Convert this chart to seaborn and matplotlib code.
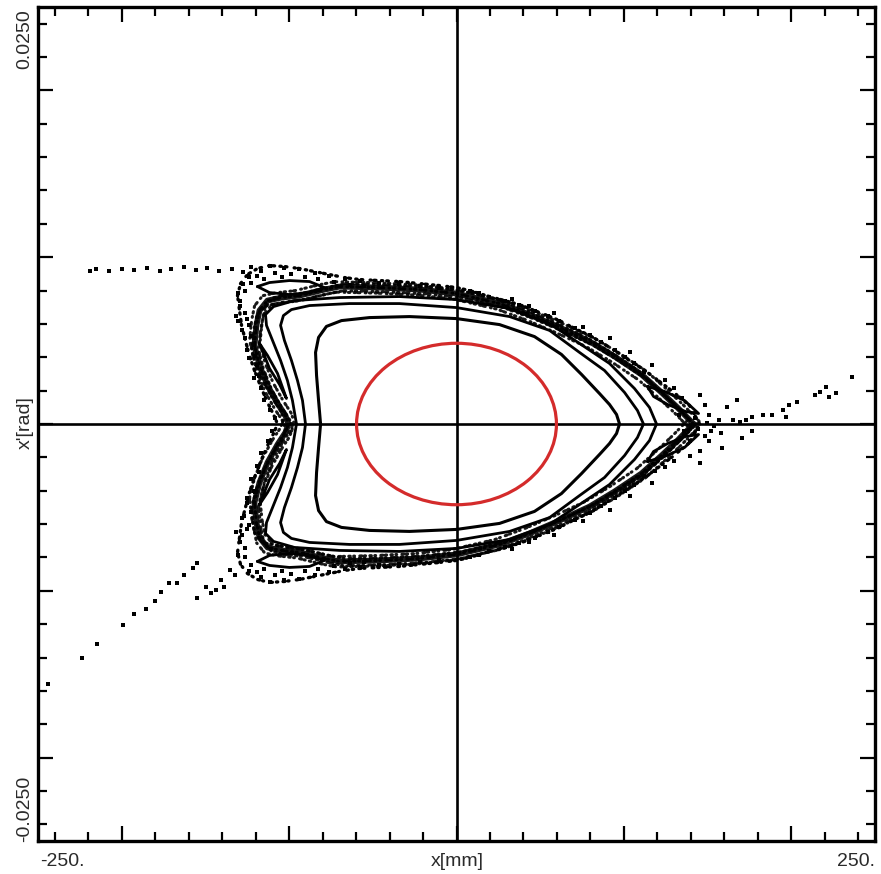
import matplotlib
matplotlib.use("Agg")
import numpy as np
import pandas as pd
import matplotlib.pyplot as plt
import matplotlib.patheffects as pe
from matplotlib.patches import Ellipse
from matplotlib.ticker import MultipleLocator, NullFormatter
import seaborn as sns

# Phase-space portrait: x in mm, x' stored in mrad (converted to rad when drawn)

# Innermost regular orbit (closed, clockwise from left turning point)
inner_x = [-81.2, -82.4, -83.6, -84.2, -82.4, -77.7, -68.7, -52.0, -28.1, 0.0, 25.7, 46.6,
           62.7, 74.7, 85.4, 91.4, 95.6, 97.4,
           95.6, 91.4, 85.4, 74.7, 62.7, 46.6, 25.7, 0.0, -28.1, -52.0, -68.7, -77.7, -82.4,
           -84.2, -83.6, -82.4, -81.2]
inner_xp = [0.00, 1.41, 2.91, 4.29, 5.19, 5.85, 6.20, 6.38, 6.44, 6.32, 5.96, 5.24,
            4.17, 2.97, 1.83, 1.17, 0.57, 0.00,
            -0.57, -1.17, -1.83, -2.97, -4.17, -5.24, -5.96, -6.32, -6.44, -6.38, -6.20, -5.85,
            -5.19, -4.29, -2.91, -1.41, 0.00]

# Middle regular orbit
middle_x = [-90.2, -92.0, -95.0, -98.6, -102.8, -105.1, -103.4, -98.6, -87.8, -63.9, -34.1,
            0.0, 31.7, 55.6, 73.5, 88.4, 100.4, 108.1, 111.7,
            108.1, 100.4, 88.4, 73.5, 55.6, 31.7, 0.0, -34.1, -63.9, -87.8, -98.6, -103.4,
            -105.1, -102.8, -98.6, -95.0, -92.0, -90.2]
middle_xp = [0.00, 1.41, 2.61, 3.81, 5.01, 5.91, 6.50, 6.86, 7.10, 7.22, 7.22,
             6.98, 6.44, 5.61, 4.29, 3.21, 1.89, 0.81, 0.00,
             -0.81, -1.89, -3.21, -4.29, -5.61, -6.44, -6.98, -7.22, -7.22, -7.10, -6.86,
             -6.50, -5.91, -5.01, -3.81, -2.61, -1.41, 0.00]

# Outermost regular orbit
outer_x = [-95.6, -98.0, -101.0, -105.1, -109.9, -113.5, -114.1, -109.3, -96.8, -69.9, -34.1,
           0.0, 31.7, 55.6, 73.5, 91.4, 106.3, 115.3, 119.5,
           115.3, 106.3, 91.4, 73.5, 55.6, 31.7, 0.0, -34.1, -69.9, -96.8, -109.3, -114.1,
           -113.5, -109.9, -105.1, -101.0, -98.0, -95.6]
outer_xp = [0.00, 1.41, 2.61, 3.81, 5.01, 5.91, 6.56, 7.04, 7.40, 7.58, 7.64,
            7.46, 6.92, 6.02, 4.83, 3.63, 2.13, 0.99, 0.00,
            -0.99, -2.13, -3.63, -4.83, -6.02, -6.92, -7.46, -7.64, -7.58, -7.40, -7.04,
            -6.56, -5.91, -5.01, -3.81, -2.61, -1.41, 0.00]

# Chaotic layer around the separatrix
band_x = [141.6, 132.0, 122.5, 110.5, 94.4, 79.5, 61.5, 43.6, 25.7, 0.0, -22.1, -46.0,
          -69.9, -78.9, -93.8, -104.5, -112.9, -117.7, -119.5, -120.7, -117.7, -112.9,
          -106.9, -102.2, -100.4,
          -102.2, -106.9, -112.9, -117.7, -120.7, -119.5, -117.7, -112.9, -104.5, -93.8,
          -78.9, -69.9, -46.0, -22.1, 0.0, 25.7, 43.6, 61.5, 79.5, 94.4, 110.5, 122.5,
          132.0, 141.6]
band_xp = [0.00, 0.99, 1.89, 2.97, 4.05, 4.95, 5.79, 6.56, 7.22, 7.82, 8.06, 8.18,
           8.24, 8.06, 7.70, 7.58, 7.40, 6.80, 5.91, 4.71, 3.51, 2.31,
           1.23, 0.51, 0.00,
           -0.51, -1.23, -2.31, -3.51, -4.71, -5.91, -6.80, -7.40, -7.58, -7.70,
           -8.06, -8.24, -8.18, -8.06, -7.82, -7.22, -6.56, -5.79, -4.95, -4.05, -2.97,
           -1.89, -0.99, 0.00]

# Outer edge of the diffuse halo
halo_edge_x = [145.2, 139.2, 128.4, 114.1, 106.3, 100.4, 94.4, 86.6, 79.5, 70.5, 61.5, 54.4,
               46.6, 37.6, 28.7, 19.7, 7.8, 0.0, -10.2, -22.1, -34.1, -46.0, -57.9, -66.9,
               -75.9, -84.8, -93.8, -102.8, -111.7, -118.9, -124.9, -129.0, -130.8, -129.6,
               -128.4, -126.1, -123.7, -120.7, -116.5, -112.9, -109.3, -106.9,
               -109.3, -112.9, -116.5, -120.7, -123.7, -126.1, -128.4, -129.6, -130.8, -129.0,
               -124.9, -118.9, -111.7, -102.8, -93.8, -84.8, -75.9, -66.9, -57.9, -46.0,
               -34.1, -22.1, -10.2, 0.0, 7.8, 19.7, 28.7, 37.6, 46.6, 54.4, 61.5, 70.5, 79.5,
               86.6, 94.4, 100.4, 106.3, 114.1, 128.4, 139.2, 145.2]
halo_edge_xp = [0.00, 1.11, 2.01, 3.09, 3.63, 3.99, 4.41, 4.89, 5.31, 5.73, 6.20, 6.50,
                6.80, 7.16, 7.40, 7.64, 8.00, 8.18, 8.30, 8.42, 8.54, 8.60, 8.66, 8.78,
                8.96, 9.14, 9.32, 9.44, 9.50, 9.32, 8.96, 8.42, 7.70, 6.80,
                5.91, 5.01, 4.11, 3.21, 2.13, 1.29, 0.57, 0.00,
                -0.57, -1.29, -2.13, -3.21, -4.11, -5.01, -5.91, -6.80, -7.70, -8.42,
                -8.96, -9.32, -9.50, -9.44, -9.32, -9.14, -8.96, -8.78, -8.66, -8.60,
                -8.54, -8.42, -8.30, -8.18, -8.00, -7.64, -7.40, -7.16, -6.80, -6.50, -6.20,
                -5.73, -5.31, -4.89, -4.41, -3.99, -3.63, -3.09, -2.01, -1.11, 0.00]

# Resonance islands
island_top_x = [-118.9, -111.7, -99.8, -87.8, -78.9, -87.8, -99.8, -111.7, -118.9]
island_top_xp = [8.24, 8.48, 8.60, 8.54, 8.18, 7.88, 7.76, 7.88, 8.24]
island_bottom_x = [-118.9, -111.7, -99.8, -87.8, -78.9, -87.8, -99.8, -111.7, -118.9]
island_bottom_xp = [-8.24, -8.48, -8.60, -8.54, -8.18, -7.88, -7.76, -7.88, -8.24]
island_left_up_x = [-117.7, -112.9, -106.9, -101.6, -105.7, -111.7, -117.7]
island_left_up_xp = [4.83, 4.11, 3.03, 1.53, 2.37, 3.33, 4.83]
island_left_dn_x = [-117.7, -112.9, -106.9, -101.6, -105.7, -111.7, -117.7]
island_left_dn_xp = [-4.83, -4.11, -3.03, -1.53, -2.37, -3.33, -4.83]
island_right_up_x = [114.1, 124.3, 136.2, 144.6, 136.8, 126.1, 117.7, 114.1]
island_right_up_xp = [2.25, 1.95, 1.41, 0.63, 0.75, 1.17, 1.65, 2.25]
island_right_dn_x = [114.1, 124.3, 136.2, 144.6, 136.8, 126.1, 117.7, 114.1]
island_right_dn_xp = [-2.25, -1.95, -1.41, -0.63, -0.75, -1.17, -1.65, -2.25]

# Escaping / stray particles
tail_upper_x = [-219.2, -215.1, -207.3, -200.1, -192.4, -184.6, -177.4, -170.3, -162.5,
                -155.9, -148.8, -141.6, -134.4, -127.8, -122.5]
tail_upper_xp = [9.20, 9.32, 9.20, 9.32, 9.26, 9.38, 9.20, 9.32, 9.44,
                 9.26, 9.38, 9.20, 9.32, 9.14, 9.44]
tail_lower_x = [-244.3, -224.0, -214.5, -199.5, -192.4, -185.2, -180.4, -176.8, -171.5,
                -166.7, -162.5, -157.7, -155.3, -155.3, -149.4, -146.4, -143.4, -140.4,
                -138.6, -135.6, -132.6]
tail_lower_xp = [-15.56, -14.00, -13.16, -12.08, -11.42, -11.12, -10.64, -10.10, -9.56,
                 -9.56, -9.08, -8.66, -8.36, -10.46, -9.80, -10.16, -9.98, -9.38,
                 -9.80, -8.78, -9.08]
tail_right_x = [236.0, 221.0, 216.9, 213.9, 227.0, 222.8, 203.7, 198.9, 194.8, 197.1, 188.2,
                182.8, 176.8, 173.2, 169.1, 164.9, 170.3, 176.8, 158.9, 167.3, 161.3]
tail_right_xp = [2.79, 2.19, 1.89, 1.71, 1.83, 1.59, 1.29, 1.11, 0.81, 0.39, 0.51,
                 0.51, 0.39, 0.21, 0.09, 0.21, -0.81, -0.39, -1.41, 1.41, 0.99]

# Loose particles scattered through the halo
halo_x = [7.8, 19.7, 28.7, 37.6, 46.6, 54.4, 61.5, 70.5, 79.5, 86.6, 94.4, 100.4, 106.3, 112.3,
          -93.8, -84.8, -75.9, -66.9, -57.9, -46.0, -34.1, -22.1, -10.2,
          -111.7, -102.8, -116.5, -123.7, -127.8, -130.8,
          -129.6, -126.6, -130.8, -123.7, -126.6, -120.7, -123.7, -118.9, -120.7, -116.5,
          -114.7, -111.7, -108.7, -110.5, -112.9, -116.5, -118.9, -122.5, -120.7, -124.9,
          -127.2, -123.7, -128.4, -126.6, -130.8,
          7.8, 19.7, 28.7, 37.6, 46.6, 54.4, 61.5, 70.5, 79.5, 86.6, 94.4, 100.4, 106.3, 112.3,
          -93.8, -84.8, -75.9, -66.9, -57.9, -46.0, -34.1, -22.1, -10.2,
          -111.7, -102.8, -116.5, -123.7,
          124.3, 130.2, 145.2, 148.2, 151.1, 154.1, 148.2, 151.1, 145.2, 139.2, 130.2,
          124.3, 118.3, 145.2, 152.3, 157.1,
          -126.6, -122.5, -118.9, -114.7, -108.7, -104.5, -98.6, -90.8, -83.0, -72.9, -63.9,
          -55.0, -129.6, -132.0, -124.9, -128.4, -122.5, -124.9, -120.1, -117.7,
          -126.6, -122.5, -118.9, -114.7, -108.7, -104.5, -98.6, -90.8, -83.0, -72.9, -63.9,
          -55.0, -129.6, -132.0, -124.9, -128.4, -122.5, -124.9, -120.1, -117.7,
          133.2, 136.2, 142.2, 144.0, 139.2, 135.0, 149.9, 158.3,
          13.7, 32.9, 43.6, 58.5, 75.3, 91.4, 103.4, 116.5,
          13.7, 32.9, 43.6, 58.5, 75.3, 91.4, 103.4, 116.5]
halo_xp = [8.00, 7.64, 7.40, 7.16, 6.80, 6.50, 6.20, 5.73, 5.31, 4.89, 4.41, 3.99, 3.63, 3.09,
           9.32, 9.08, 8.90, 8.72, 8.60, 8.48, 8.42, 8.30, 8.18,
           9.50, 9.38, 9.20, 8.84, 8.42, 7.88,
           7.40, 6.68, 6.20, 5.91, 5.13, 4.71, 3.93, 3.51, 2.73, 2.13,
           1.41, 0.81, 0.33, -0.39, -0.99, -1.71, -2.49, -3.27, -3.99, -4.71,
           -5.49, -6.08, -6.68, -7.46, -7.88,
           -8.00, -7.64, -7.40, -7.16, -6.86, -6.50, -6.20, -5.73, -5.31, -4.89, -4.41,
           -3.99, -3.63, -3.09,
           -9.32, -9.08, -8.90, -8.72, -8.60, -8.48, -8.42, -8.30, -8.18,
           -9.50, -9.38, -9.20, -8.84,
           2.61, 2.13, 1.71, 1.11, 0.51, -0.09, -0.69, -0.99, -1.59, -1.89, -2.19,
           -2.55, -2.79, -2.31, -0.39, 0.21,
           8.00, 8.48, 8.90, 8.72, 9.08, 8.84, 9.02, 8.84, 8.72, 8.54, 8.36,
           8.30, 7.10, 6.50, 6.32, 5.61, 5.25, 4.41, 4.05, 2.85,
           -8.00, -8.48, -8.90, -8.72, -9.08, -8.84, -9.02, -8.84, -8.72, -8.54, -8.36,
           -8.30, -7.10, -6.50, -6.32, -5.61, -5.25, -4.41, -4.05, -2.85,
           0.51, -0.39, 0.33, -0.27, -0.99, 1.53, 0.03, -0.51,
           7.88, 7.52, 7.10, 6.68, 5.79, 5.13, 4.29, 3.51,
           -7.88, -7.52, -7.10, -6.68, -5.79, -5.13, -4.29, -3.51]

# Matched beam ellipse (centre and semi-axes)
beam_center_x, beam_center_xp = 0.0, 0.0
beam_half_x, beam_half_xp = 59.7, 4.84

x_label_left, x_label_right = "-250.", "250."
y_label_top, y_label_bottom = "0.0250", "-0.0250"

sns.set_theme(style="white")
plt.rcParams["font.family"] = ["Liberation Sans", "DejaVu Sans"]

fig = plt.figure(figsize=(8.81, 8.74), dpi=100)
ax = fig.add_axes([38 / 881, 1 - 841 / 874, 837 / 881, 834 / 874])

MR = 1e-3  # mrad -> rad


def curve(xs, xps, lw, color="black", alpha=1.0, ls="-", cap="butt", effects=None):
    df = pd.DataFrame({"x": xs, "xp": np.asarray(xps) * MR})
    sns.lineplot(data=df, x="x", y="xp", sort=False, estimator=None, ax=ax,
                 color=color, lw=lw, alpha=alpha, legend=False, linestyle=ls,
                 solid_joinstyle="round", dash_joinstyle="round", dash_capstyle=cap,
                 path_effects=effects)


def dots(xs, xps, size=6):
    df = pd.DataFrame({"x": xs, "xp": np.asarray(xps) * MR})
    sns.scatterplot(data=df, x="x", y="xp", ax=ax, color="black", marker="s",
                    s=size, linewidth=0, legend=False)


# irregular dotted patterns for the diffuse halo
speckle = (0, (0.4, 1.6, 0.6, 0.9, 0.3, 2.2, 0.5, 1.2))
grain = (0, (0.5, 1.1, 0.3, 1.7, 0.7, 0.8, 0.4, 1.4))
# shifted copies of the dotted layer spread it into a cloud on both sides of the core
cloud = [pe.SimpleLineShadow(offset=(-3.5, 3.5), shadow_color="black", alpha=0.9, rho=1),
         pe.SimpleLineShadow(offset=(3.0, -3.0), shadow_color="black", alpha=0.9, rho=1),
         pe.SimpleLineShadow(offset=(-2.0, -4.0), shadow_color="black", alpha=0.9, rho=1),
         pe.SimpleLineShadow(offset=(4.0, 2.0), shadow_color="black", alpha=0.9, rho=1),
         pe.Normal()]

# chaotic layer: dense core with a speckled cloud around it
curve(halo_edge_x, halo_edge_xp, 2.4, ls=speckle, cap="round")
curve(band_x, band_xp, 2.2, ls=grain, cap="round", effects=cloud)
curve(band_x, band_xp, 4.2, alpha=0.9)
# regular orbits
curve(outer_x, outer_xp, 2.0)
curve(middle_x, middle_xp, 2.0)
curve(inner_x, inner_xp, 2.2)
# islands
for ix, ixp in [(island_top_x, island_top_xp), (island_bottom_x, island_bottom_xp),
                (island_left_up_x, island_left_up_xp), (island_left_dn_x, island_left_dn_xp),
                (island_right_up_x, island_right_up_xp), (island_right_dn_x, island_right_dn_xp)]:
    curve(ix, ixp, 2.0)
# stray particles
dots(tail_upper_x, tail_upper_xp)
dots(tail_lower_x, tail_lower_xp)
dots(tail_right_x, tail_right_xp)
dots(halo_x, halo_xp)

# coordinate axes through the origin
ax.axhline(0, color="black", lw=1.9, zorder=5)
ax.axvline(0, color="black", lw=1.9, zorder=5)

# beam ellipse
ax.add_patch(Ellipse((beam_center_x, beam_center_xp * MR), 2 * beam_half_x,
                     2 * beam_half_xp * MR, fill=False, edgecolor="#d42b2b", lw=2.3, zorder=6))

ax.set_xlim(-250, 250)
ax.set_ylim(-0.025, 0.025)
ax.xaxis.set_major_locator(MultipleLocator(100))
ax.xaxis.set_minor_locator(MultipleLocator(20))
ax.yaxis.set_major_locator(MultipleLocator(0.01))
ax.yaxis.set_minor_locator(MultipleLocator(0.002))
ax.xaxis.set_major_formatter(NullFormatter())
ax.yaxis.set_major_formatter(NullFormatter())
ax.tick_params(which="both", direction="in", top=True, right=True, bottom=True, left=True,
               color="black", width=1.6)
ax.tick_params(which="major", length=11)
ax.tick_params(which="minor", length=6.5)
for sp in ax.spines.values():
    sp.set_visible(True)
    sp.set_color("black")
    sp.set_linewidth(2.4)
ax.set_xlabel("")
ax.set_ylabel("")
ax.grid(False)

tc = "#2a2a2a"
fs = 14
fig.text(40 / 881, 1 - 862 / 874, x_label_left, ha="left", va="center", fontsize=fs, color=tc)
fig.text(875 / 881, 1 - 862 / 874, x_label_right, ha="right", va="center", fontsize=fs, color=tc)
fig.text(457 / 881, 1 - 862 / 874, "x[mm]", ha="center", va="center", fontsize=fs, color=tc)
fig.text(25 / 881, 1 - 9 / 874, y_label_top, ha="center", va="top", rotation=90,
         fontsize=fs, color=tc)
fig.text(25 / 881, 1 - 842 / 874, y_label_bottom, ha="center", va="bottom", rotation=90,
         fontsize=fs, color=tc)
fig.text(25 / 881, 1 - 423 / 874, "x'[rad]", ha="center", va="center", rotation=90,
         fontsize=fs, color=tc)

fig.savefig("out.png", dpi=100, facecolor="white")
